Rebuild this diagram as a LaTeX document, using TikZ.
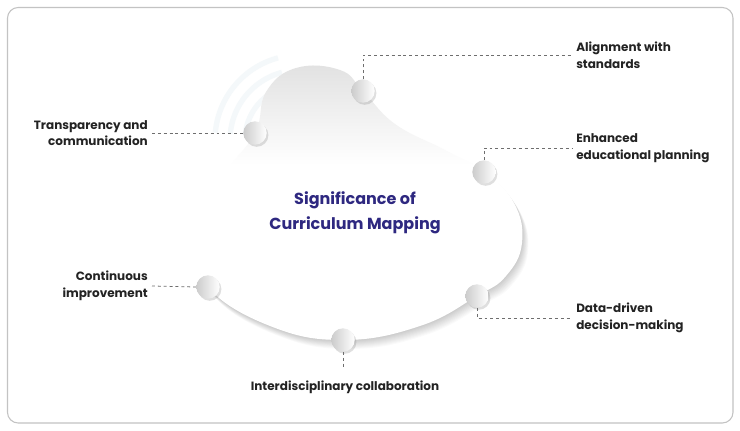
\documentclass[tikz,border=0pt]{standalone}
\usepackage{fontspec}
\setmainfont{Poppins}
\usetikzlibrary{shadows}
\definecolor{titleblue}{RGB}{46,40,128}
\definecolor{txt}{RGB}{35,35,35}
\definecolor{dashc}{RGB}{110,110,110}
\definecolor{framec}{RGB}{195,195,195}
\definecolor{arcc}{RGB}{244,248,250}
\newcommand\blobshape[1]{\path[#1] plot[smooth cycle, tension=0.72] coordinates {(255,133) (266,92) (296,68) (340,70) (363,91) (395,124) (445,150) (484,172) (514,203) (522,243) (506,276) (477,296) (420,326) (343,340) (270,326) (208,287) (203,245) (222,180)};}
\begin{document}
\begin{tikzpicture}[x=0.75pt,y=-0.75pt,
  dot/.style={circle, minimum size=17.5pt, inner sep=0pt, left color=gray!40, right color=white,
     drop shadow={shadow xshift=1.3pt, shadow yshift=-1.6pt, opacity=0.25}},
  lbl/.style={font=\fontsize{9}{12.5}\selectfont\bfseries, text=txt, inner sep=3pt},
  conn/.style={dashc, dash pattern=on 2.2pt off 2.2pt, line width=0.6pt}]
\useasboundingbox (0,0) rectangle (740,431);
\fill[white] (0,0) rectangle (740,431);
\draw[framec, rounded corners=8pt, line width=0.8pt] (7.5,7.5) rectangle (733,423);
% faint arcs
\foreach \r in {55,70,85}
  \draw[arcc, line width=4pt] plot[domain=185:255, samples=30] ({300+\r*cos(\x)},{140+\r*sin(\x)});
% blob shadow
\foreach \i in {1,...,10}
  \blobshape{fill=black, fill opacity=0.02, shift={(\i*0.6,\i*0.9)}};
\blobshape{fill=white}
\begin{scope}
  \blobshape{clip}
  \shade[top color=gray!24, bottom color=white] (200,60) rectangle (540,165);
\end{scope}
% title
\node[font=\fontsize{12}{18.5}\selectfont\bfseries, text=titleblue, align=center] (title) at (355,213) {Significance of\\Curriculum Mapping};
% circles
\node[dot] (calign) at (363,91) {};
\node[dot] (ctrans) at (255,133) {};
\node[dot] (cenh) at (484,172) {};
\node[dot] (ccont) at (208,287) {};
\node[dot] (cdata) at (477,296) {};
\node[dot] (cinter) at (343,340) {};
% labels
\node[lbl, anchor=west, align=left] (lalign) at (572,55) {Alignment with\\standards};
\node[lbl, anchor=west, align=left] (lenh) at (572,148) {Enhanced\\educational planning};
\node[lbl, anchor=east, align=right] (ltrans) at (152,133) {Transparency and\\communication};
\node[lbl, anchor=east, align=right] (lcont) at (152,286) {Continuous\\improvement};
\node[lbl, anchor=west, align=left] (ldata) at (572,318) {Data-driven\\decision-making};
\node[lbl, anchor=base] (linter) at (345,391) {Interdisciplinary collaboration};
\coordinate (einter) at (343,368);
% connectors
\draw[conn] (calign.north) |- (lalign.west);
\draw[conn] (cenh.north) |- (lenh.west);
\draw[conn] (ltrans.east) -- (ctrans.west);
\draw[conn] (lcont.east) -- (ccont.west);
\draw[conn] (cdata.south) |- (ldata.west);
\draw[conn] (cinter.south) -- (einter);
\end{tikzpicture}
\end{document}
